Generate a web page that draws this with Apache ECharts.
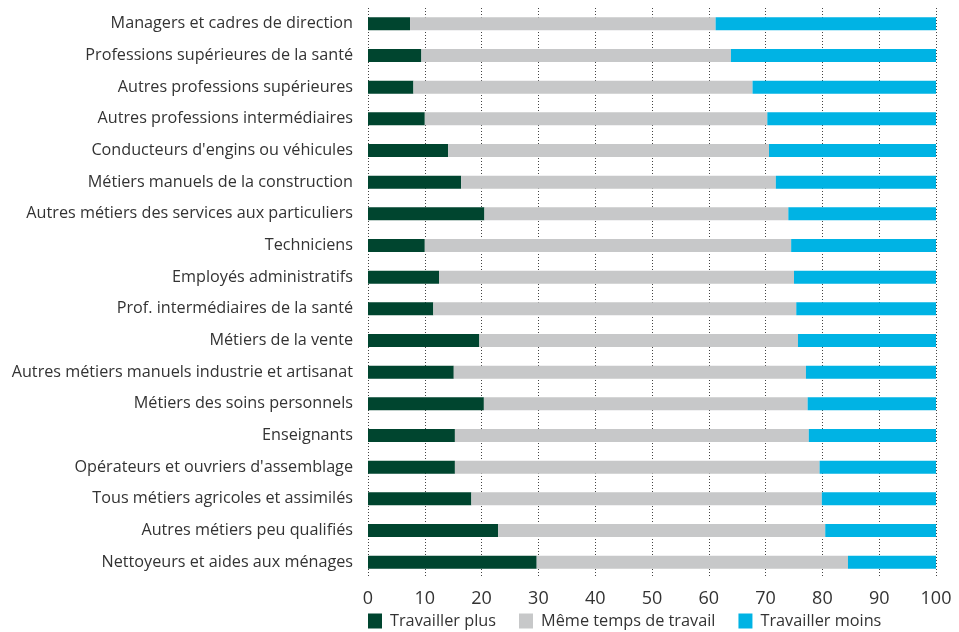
<!DOCTYPE html>
<html>
<head>
<meta charset="utf-8">
<script src="https://cdn.jsdelivr.net/npm/echarts@6/dist/echarts.min.js"></script>
<style>
  html, body { margin: 0; padding: 0; background: #fff; }
  #chart { width: 959px; height: 632px; }
</style>
</head>
<body>
<div id="chart"></div>
<script>
// catégories (du haut vers le bas)
var metiers = [
  "Managers et cadres de direction",
  "Professions supérieures de la santé",
  "Autres professions supérieures",
  "Autres professions intermédiaires",
  "Conducteurs d'engins ou véhicules",
  "Métiers manuels de la construction",
  "Autres métiers des services aux particuliers",
  "Techniciens",
  "Employés administratifs",
  "Prof. intermédiaires de la santé",
  "Métiers de la vente",
  "Autres métiers manuels industrie et artisanat",
  "Métiers des soins personnels",
  "Enseignants",
  "Opérateurs et ouvriers d'assemblage",
  "Tous métiers agricoles et assimilés",
  "Autres métiers peu qualifiés",
  "Nettoyeurs et aides aux ménages"
];
var travaillerPlus  = [7.4, 9.4, 8.0, 10.0, 14.1, 16.4, 20.5, 10.0, 12.5, 11.5, 19.6, 15.1, 20.4, 15.3, 15.3, 18.2, 22.9, 29.7];
var memeTemps       = [53.8, 54.5, 59.7, 60.3, 56.5, 55.4, 53.5, 64.5, 62.5, 63.9, 56.1, 62.0, 57.0, 62.3, 64.2, 61.7, 57.6, 54.8];
var travaillerMoins = [38.8, 36.1, 32.3, 29.7, 29.4, 28.2, 26.0, 25.5, 25.0, 24.6, 24.3, 22.9, 22.6, 22.4, 20.5, 20.1, 19.5, 15.5];

var police = "'Open Sans', 'Noto Sans', sans-serif";

var chart = echarts.init(document.getElementById('chart'));

function serie(nom, data, couleur) {
  return {
    name: nom,
    type: 'bar',
    stack: 'total',
    barWidth: 13,
    data: data,
    itemStyle: { color: couleur },
    emphasis: { disabled: true }
  };
}

chart.setOption({
  animation: false,
  textStyle: { fontFamily: police },
  grid: { left: 368, right: 23, top: 8, bottom: 54 },
  legend: {
    left: 368,
    top: 613,
    padding: 0,
    itemWidth: 14,
    itemHeight: 15,
    itemGap: 23,
    icon: 'rect',
    textStyle: { fontSize: 16.3, color: '#333', fontFamily: police, padding: [0, 0, 0, 3] },
    data: ['Travailler plus', 'Même temps de travail', 'Travailler moins']
  },
  xAxis: {
    type: 'value',
    min: 0,
    max: 100,
    interval: 10,
    axisLine: { show: false },
    axisTick: { show: false },
    axisLabel: { fontSize: 18, color: '#333', margin: 12, fontFamily: police },
    splitLine: {
      show: true,
      lineStyle: { color: '#444', type: [1, 2], width: 1 }
    }
  },
  yAxis: {
    type: 'category',
    inverse: true,
    data: metiers,
    axisLine: { show: false },
    axisTick: { show: false },
    axisLabel: { fontSize: 16.2, color: '#333', margin: 15, fontFamily: police }
  },
  series: [
    serie('Travailler plus', travaillerPlus, '#00452f'),
    serie('Même temps de travail', memeTemps, '#c7c8c9'),
    serie('Travailler moins', travaillerMoins, '#00b3e4')
  ]
});
</script>
</body>
</html>
